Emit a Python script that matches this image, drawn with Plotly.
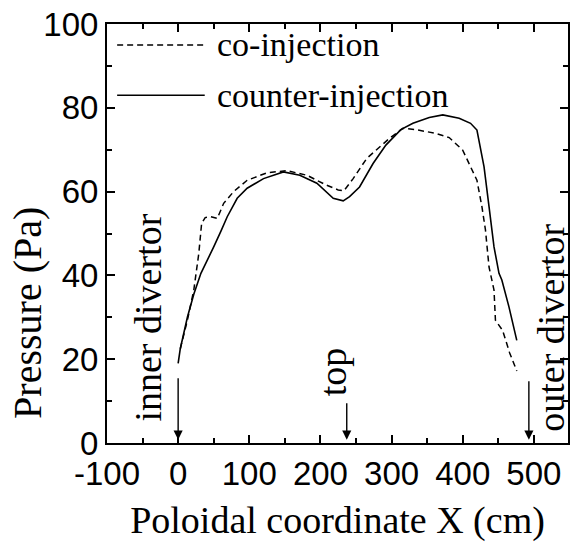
import plotly.graph_objects as go

# Poloidal pressure profiles (x in cm, pressure in Pa)
co_x = [3, 13, 22, 29, 33, 38, 46, 55, 64, 78, 97, 125, 153, 181, 209, 225,
        233, 246, 265, 297, 316, 334, 362, 381, 400, 413, 420, 427, 432, 437,
        444, 446, 456, 466, 476]
co_y = [22.5, 29.3, 36.5, 45.2, 52.4, 53.8, 54.0, 53.6, 57.2, 60.0, 62.7, 64.5,
        65.0, 63.9, 61.5, 60.4, 60.2, 63.1, 67.9, 72.7, 75.1, 74.8, 73.9, 72.9,
        69.9, 65.1, 62.7, 56.4, 50.8, 42.0, 36.5, 29.3, 26.9, 21.5, 17.2]

counter_x = [0, 3, 13, 22, 32, 41, 50, 60, 69, 83, 97, 120, 148, 171, 195, 218,
             232, 241, 255, 274, 292, 313, 330, 353, 372, 395, 411, 420, 425,
             430, 437, 444, 451, 455, 465, 476]
counter_y = [19.0, 22.5, 30.0, 35.5, 40.5, 43.5, 46.8, 50.5, 54.0, 58.4, 60.8,
             63.1, 64.7, 63.9, 62.0, 58.4, 57.8, 58.8, 61.1, 66.7, 71.1, 74.8,
             76.3, 77.7, 78.3, 77.5, 76.3, 74.7, 70.7, 65.9, 56.4, 46.8, 40.5,
             38.9, 32.5, 24.5]

x_ticks = [-100, 0, 100, 200, 300, 400, 500]
x_tick_text = ["-100", "0", "100", "200", "300", "400", "500"]
y_ticks = [0, 20, 40, 60, 80, 100]

# Marked positions along the poloidal coordinate
markers = [
    {"label": "inner divertor", "x": 0, "text_x": -42, "text_y": 30.0, "len": 63},
    {"label": "top", "x": 237, "text_x": 217, "text_y": 17.0, "len": 38},
    {"label": "outer divertor", "x": 493, "text_x": 524, "text_y": 27.5, "len": 60},
]

SERIF = "Liberation Serif, Times New Roman, serif"
SANS = "Liberation Sans, Arial, Helvetica, sans-serif"

fig = go.Figure()
fig.add_trace(go.Scatter(x=co_x, y=co_y, mode="lines", name="co-injection",
                         line=dict(color="black", width=1.5, dash="6px,4px")))
fig.add_trace(go.Scatter(x=counter_x, y=counter_y, mode="lines",
                         name="counter-injection",
                         line=dict(color="black", width=1.6)))

annotations = []
for m in markers:
    annotations.append(dict(x=m["text_x"], y=m["text_y"], xref="x", yref="y",
                            text=m["label"], textangle=-90, showarrow=False,
                            xanchor="center", yanchor="middle", borderpad=0,
                            font=dict(family=SERIF, size=38, color="black")))
    annotations.append(dict(x=m["x"], y=0.8, xref="x", yref="y", text="",
                            showarrow=True, ax=0, ay=-m["len"], arrowhead=2,
                            arrowsize=1.3, arrowwidth=1.4, arrowcolor="black"))

# Legend drawn as line samples with labels
legend_items = [("co-injection", "6px,4px", 0.950), ("counter-injection", "solid", 0.830)]
shapes = []
for label, dash, ly in legend_items:
    shapes.append(dict(type="line", xref="paper", yref="paper", x0=0.022,
                       x1=0.212, y0=ly, y1=ly,
                       line=dict(color="black", width=1.5, dash=dash)))
    annotations.append(dict(x=0.234, y=ly, xref="paper", yref="paper",
                            text=label, showarrow=False, xanchor="left",
                            yanchor="middle",
                            font=dict(family=SERIF, size=34, color="black")))

annotations.append(dict(x=-0.174, y=0.31, xref="paper", yref="paper",
                        text="Pressure (Pa)", textangle=-90, showarrow=False,
                        xanchor="center", yanchor="middle",
                        font=dict(family=SERIF, size=40, color="black")))

axis_common = dict(ticks="inside", ticklen=8, tickwidth=1.5, tickcolor="black",
                   showline=True, linewidth=2, linecolor="black",
                   mirror="allticks", showgrid=False, zeroline=False,
                   tickfont=dict(family=SANS, size=33, color="black"))

fig.update_layout(
    width=572, height=542,
    margin=dict(l=107, r=2, t=24, b=99),
    plot_bgcolor="white", paper_bgcolor="white",
    showlegend=False,
    shapes=shapes,
    annotations=annotations,
    xaxis=dict(range=[-100, 548], tickvals=x_ticks, ticktext=x_tick_text,
               minor=dict(dtick=50, tick0=0, ticks="inside", ticklen=5,
                          tickwidth=1.5, tickcolor="black"),
               title=dict(text="Poloidal coordinate X (cm)", standoff=17,
                          font=dict(family=SERIF, size=38, color="black")),
               **axis_common),
    yaxis=dict(range=[0, 100], tickvals=y_ticks,
               minor=dict(dtick=10, tick0=0, ticks="inside", ticklen=5,
                          tickwidth=1.5, tickcolor="black"),
               **axis_common),
)

fig.write_html("out.html")
